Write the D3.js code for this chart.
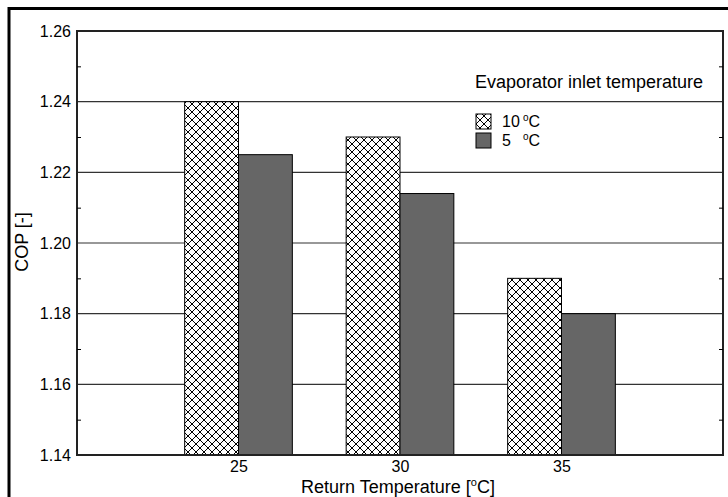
<!DOCTYPE html>
<html>
<head>
<meta charset="utf-8">
<script src="https://cdn.jsdelivr.net/npm/d3@7/dist/d3.min.js"></script>
<style>
  html, body { margin: 0; padding: 0; background: #fff; }
  svg { display: block; font-family: Arial, "Liberation Sans", sans-serif; }
</style>
</head>
<body>
<svg id="chart" width="728" height="497"></svg>
<script>
// ---- data ----
const categories = [25, 30, 35];
const seriesNames = ["10", "5"];
const cop10 = [1.24, 1.23, 1.19];
const cop5 = [1.225, 1.214, 1.18];
const yTicks = [1.14, 1.16, 1.18, 1.20, 1.22, 1.24, 1.26];
const yMinorTicks = [1.15, 1.17, 1.19, 1.21, 1.23, 1.25];
const xTitle = "Return Temperature [";
const yTitle = "COP [-]";
const legendTitle = "Evaporator inlet temperature";

const svg = d3.select("#chart");
const W = 728, H = 497;
const L = 77, R = 723, T = 31, B = 455;

// hatch pattern
const defs = svg.append("defs");
const pat = defs.append("pattern").attr("id", "hatch")
  .attr("patternUnits", "userSpaceOnUse").attr("width", 8).attr("height", 8);
pat.append("rect").attr("width", 8).attr("height", 8).attr("fill", "#fff");
pat.append("path").attr("d", "M0,0L8,8M8,0L0,8M-1,7L1,9M7,-1L9,1M-1,1L1,-1M7,9L9,7")
  .attr("stroke", "#000").attr("stroke-width", 1).attr("fill", "none");

// outer frame
svg.append("rect").attr("x", 0).attr("y", 0).attr("width", W).attr("height", H).attr("fill", "#fff");
svg.append("rect").attr("x", 9).attr("y", 8.5).attr("width", W + 20).attr("height", H + 20)
  .attr("fill", "none").attr("stroke", "#000").attr("stroke-width", 3);

const x = d3.scaleLinear().domain([20, 40]).range([L, R]);
const y = d3.scaleLinear().domain([1.14, 1.26]).range([B, T]);
const bw = (x(30) - x(25)) / 3;

// gridlines
svg.append("g").selectAll("line").data(yTicks.slice(1, -1)).join("line")
  .attr("x1", L).attr("x2", R).attr("y1", d => y(d)).attr("y2", d => y(d))
  .attr("stroke", "#333").attr("stroke-width", 1.2);

// bars
const bars = svg.append("g");
bars.selectAll("rect.h").data(categories).join("rect").attr("class", "h")
  .attr("x", d => x(d) - bw).attr("width", bw)
  .attr("y", (d, i) => y(cop10[i])).attr("height", (d, i) => y(1.14) - y(cop10[i]))
  .attr("fill", "url(#hatch)").attr("stroke", "#000").attr("stroke-width", 1);
bars.selectAll("rect.s").data(categories).join("rect").attr("class", "s")
  .attr("x", d => x(d)).attr("width", bw)
  .attr("y", (d, i) => y(cop5[i])).attr("height", (d, i) => y(1.14) - y(cop5[i]))
  .attr("fill", "#666").attr("stroke", "#000").attr("stroke-width", 1);

// plot frame
svg.append("rect").attr("x", L).attr("y", T).attr("width", R - L).attr("height", B - T)
  .attr("fill", "none").attr("stroke", "#222").attr("stroke-width", 2);

// minor ticks (left, inward) and (right, inward)
const yAxisL = d3.axisRight(y).tickValues(yMinorTicks).tickSize(4).tickFormat("");
svg.append("g").attr("transform", `translate(${L},0)`).call(yAxisL)
  .call(g => g.select(".domain").remove())
  .call(g => g.selectAll("line").attr("stroke", "#000"));
const yAxisR = d3.axisLeft(y).tickValues(yMinorTicks).tickSize(4).tickFormat("");
svg.append("g").attr("transform", `translate(${R},0)`).call(yAxisR)
  .call(g => g.select(".domain").remove())
  .call(g => g.selectAll("line").attr("stroke", "#000"));

// y tick labels
const yAxis = d3.axisLeft(y).tickValues(yTicks).tickSize(0).tickPadding(6).tickFormat(d3.format(".2f"));
svg.append("g").attr("transform", `translate(${L},0)`).call(yAxis)
  .call(g => g.select(".domain").remove())
  .call(g => g.selectAll("text").attr("font-size", 16).attr("fill", "#000")
    .attr("font-family", "Arial, 'Liberation Sans', sans-serif"));

// x tick labels
const xAxis = d3.axisBottom(x).tickValues(categories).tickSize(0).tickPadding(6).tickFormat(d3.format("d"));
svg.append("g").attr("transform", `translate(0,${B})`).call(xAxis)
  .call(g => g.select(".domain").remove())
  .call(g => g.selectAll("text").attr("font-size", 16).attr("fill", "#000")
    .attr("font-family", "Arial, 'Liberation Sans', sans-serif"));

// x title
const xt = svg.append("text").attr("x", 398).attr("y", 493).attr("text-anchor", "middle")
  .attr("font-size", 18).attr("fill", "#000");
xt.append("tspan").text(xTitle);
xt.append("tspan").attr("font-size", 11).attr("dy", -7).text("o");
xt.append("tspan").attr("dy", 7).text("C]");

// y title
svg.append("text").attr("transform", "translate(28,242) rotate(-90)").attr("text-anchor", "middle")
  .attr("font-size", 18).attr("fill", "#000").text(yTitle);

// legend
svg.append("text").attr("x", 475).attr("y", 88).attr("font-size", 18).attr("fill", "#000").text(legendTitle);
const leg = svg.append("g");
const legFills = ["url(#hatch)", "#666"];
seriesNames.forEach((s, i) => {
  const yy = 114 + i * 19;
  leg.append("rect").attr("x", 476).attr("y", yy).attr("width", 15).attr("height", 15)
    .attr("fill", legFills[i]).attr("stroke", "#000").attr("stroke-width", 1);
  leg.append("text").attr("x", 502).attr("y", yy + 13).attr("font-size", 16).attr("fill", "#000").text(s);
  const t = leg.append("text").attr("x", 523).attr("y", yy + 13).attr("font-size", 16).attr("fill", "#000");
  t.append("tspan").attr("font-size", 10).attr("dy", -6).text("o");
  t.append("tspan").attr("dy", 6).text("C");
});
</script>
</body>
</html>
